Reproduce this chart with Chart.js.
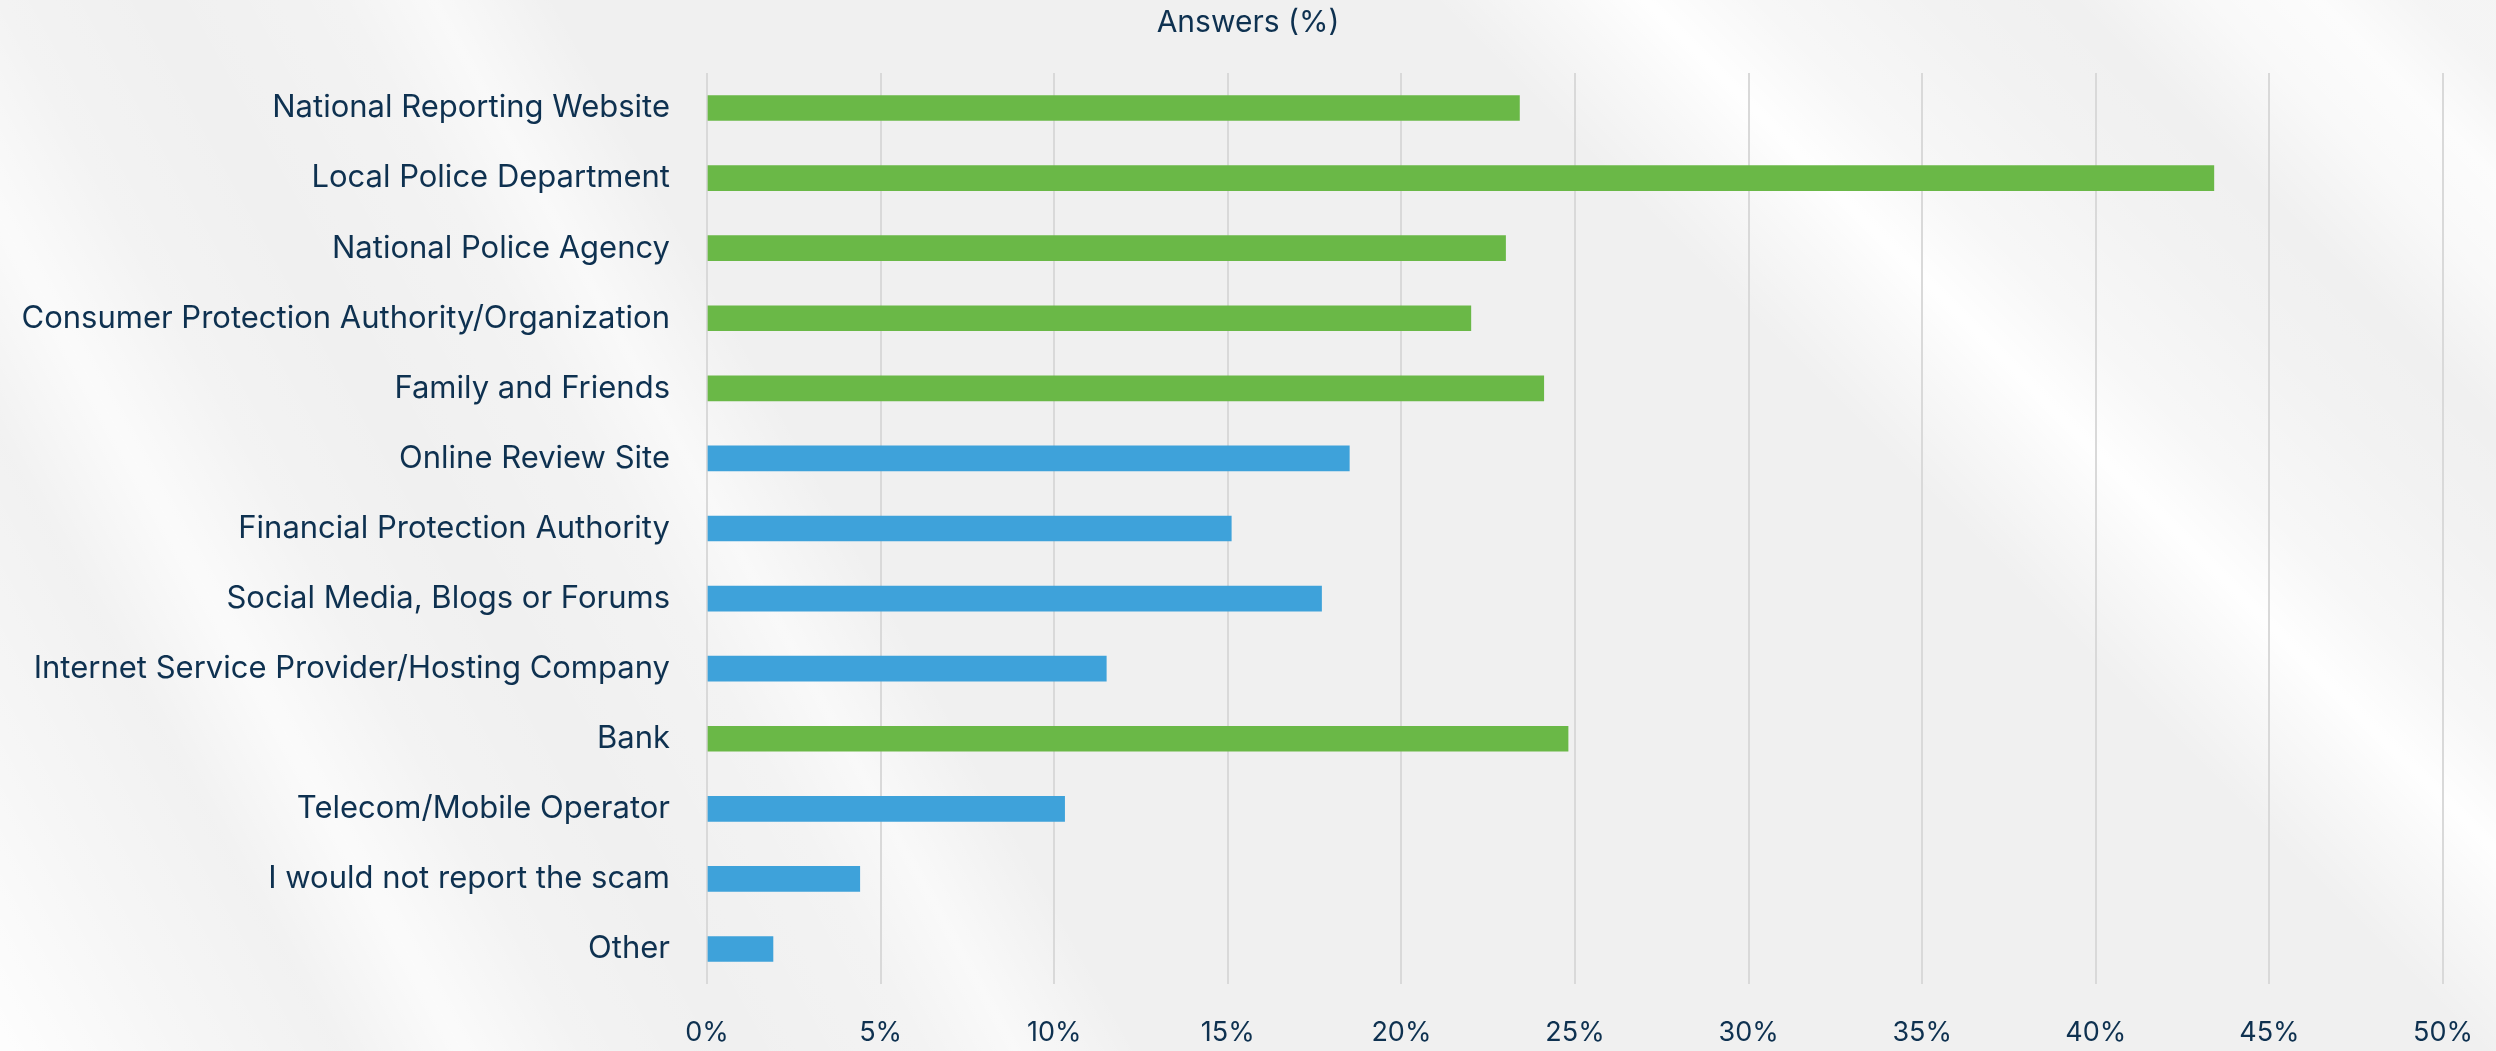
<!DOCTYPE html>
<html>
<head>
<meta charset="utf-8">
<title>Answers (%)</title>
<script src="https://cdn.jsdelivr.net/npm/chart.js@4.4.1/dist/chart.umd.min.js"></script>
<style>
  html, body { margin: 0; padding: 0; }
  body {
    width: 2496px;
    height: 1051px;
    overflow: hidden;
    background-color: #f0f0f0;
    background-image:
      linear-gradient(45deg,
        rgba(255,255,255,0) 0%, rgba(255,255,255,0) 70%,
        rgba(255,255,255,0.6) 74%, rgba(255,255,255,0.95) 76%, rgba(255,255,255,0.5) 79%,
        rgba(255,255,255,0.15) 84%, rgba(255,255,255,0) 88%,
        rgba(255,255,255,0.6) 92%, rgba(255,255,255,0.8) 95%, rgba(255,255,255,0.3) 98%),
      linear-gradient(61deg,
        rgba(255,255,255,0.9) 0%, rgba(255,255,255,0.4) 6%, rgba(255,255,255,0.1) 11%,
        rgba(255,255,255,0.7) 15%, rgba(255,255,255,0.2) 19%, rgba(255,255,255,0) 24%,
        rgba(255,255,255,0.2) 30%, rgba(255,255,255,0.6) 33%, rgba(255,255,255,0) 37%,
        rgba(255,255,255,0) 100%);
  }
  #wrap { position: relative; width: 2496px; height: 1051px; }
</style>
</head>
<body>
<div id="wrap"><canvas id="answersChart"></canvas></div>
<script>
// ===== Data =====
const categories = [
  "National Reporting Website",
  "Local Police Department",
  "National Police Agency",
  "Consumer Protection Authority/Organization",
  "Family and Friends",
  "Online Review Site",
  "Financial Protection Authority",
  "Social Media, Blogs or Forums",
  "Internet Service Provider/Hosting Company",
  "Bank",
  "Telecom/Mobile Operator",
  "I would not report the scam",
  "Other"
];
const answers = [23.4, 43.4, 23.0, 22.0, 24.1, 18.5, 15.1, 17.7, 11.5, 24.8, 10.3, 4.4, 1.9];
// top-5 answers are highlighted green, the rest blue
const highlighted = [true, true, true, true, true, false, false, false, false, true, false, false, false];
const xTickValues = [0, 5, 10, 15, 20, 25, 30, 35, 40, 45, 50];

const GREEN = '#6ab847';
const BLUE = '#3ea2da';
const TEXT = '#0e3150';
const FONT = 'Inter, Lato, sans-serif';

const ctx = document.getElementById('answersChart').getContext('2d');
new Chart(ctx, {
  type: 'bar',
  data: {
    labels: categories,
    datasets: [{
      label: 'Answers (%)',
      data: answers,
      backgroundColor: highlighted.map(h => h ? GREEN : BLUE),
      barThickness: 25
    }]
  },
  options: {
    indexAxis: 'y',
    responsive: true,
    maintainAspectRatio: false,
    animation: false,
    layout: { padding: 0 },
    plugins: {
      legend: { display: false },
      tooltip: { enabled: false },
      title: {
        display: true,
        text: 'Answers (%)',
        color: TEXT,
        font: { family: FONT, size: 30, weight: 'normal' },
        padding: { top: 5, bottom: 32 }
      }
    },
    scales: {
      x: {
        min: 0,
        max: 50,
        afterBuildTicks: scale => { scale.ticks = xTickValues.map(v => ({ value: v })); },
        ticks: {
          callback: v => v + '%',
          color: TEXT,
          font: { family: FONT, size: 27 },
          padding: 33,
          maxRotation: 0
        },
        grid: { color: '#d9d9d9', lineWidth: 2, drawTicks: false },
        border: { display: false },
        afterFit: scale => {
          scale.height = 67;
          // room on the right for the "50%" label, title stays centred on the page
          scale.paddingLeft = 0;
          scale.paddingRight = 53;
        }
      },
      y: {
        grid: { display: false },
        border: { display: false },
        ticks: {
          color: TEXT,
          font: { family: FONT, size: 31 },
          padding: 29,
          autoSkip: false
        },
        afterFit: scale => { scale.width = 707; }
      }
    }
  }
});
</script>
</body>
</html>
